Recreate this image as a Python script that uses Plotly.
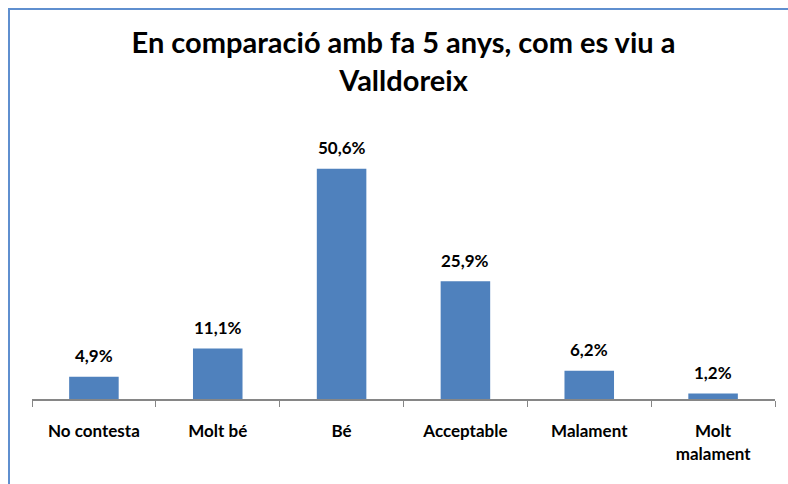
import plotly.graph_objects as go

categories = ["No contesta", "Molt bé", "Bé", "Acceptable", "Malament", "Molt<br>malament"]
values = [4.9, 11.1, 50.6, 25.9, 6.2, 1.2]
value_labels = ["4,9%", "11,1%", "50,6%", "25,9%", "6,2%", "1,2%"]
title_text = "En comparació amb fa 5 anys, com es viu a<br>Valldoreix"

FONT = "Lato"

fig = go.Figure(
    go.Bar(
        x=categories,
        y=values,
        marker=dict(color="#4F81BD", line=dict(width=0)),
        hoverinfo="skip",
    )
)

annotations = [
    dict(
        x=c,
        y=v,
        xref="x",
        yref="y",
        text=t,
        showarrow=False,
        yanchor="middle",
        yshift=21,
        font=dict(family=FONT, size=17, color="#000000", weight="bold"),
    )
    for c, v, t in zip(categories, values, value_labels)
]

fig.update_layout(
    width=788,
    height=484,
    margin=dict(l=32, r=13, t=126, b=85, autoexpand=False),
    paper_bgcolor="#FFFFFF",
    plot_bgcolor="#FFFFFF",
    bargap=0.6,
    showlegend=False,
    title=dict(
        text=title_text,
        x=0.5,
        xref="paper",
        xanchor="center",
        y=1 - 53 / 484,
        yanchor="top",
        font=dict(family=FONT, size=29, color="#000000", weight="bold"),
    ),
    xaxis=dict(
        type="category",
        showline=True,
        linecolor="#868686",
        linewidth=2,
        ticks="outside",
        tickson="boundaries",
        ticklen=6,
        tickcolor="#868686",
        tickwidth=1,
        showgrid=False,
        automargin=False,
        tickfont=dict(family=FONT, size=17, color="#000000", weight="bold"),
        ticklabelstandoff=16,
    ),
    yaxis=dict(range=[0, 60], visible=False, showgrid=False, zeroline=False),
    annotations=annotations,
    shapes=[
        dict(
            type="rect",
            xref="paper",
            yref="paper",
            x0=(9 - 32) / 743,
            x1=1.2,
            y0=-0.6,
            y1=(399 - 9) / 273,
            line=dict(color="#5F8FCF", width=2),
            fillcolor="rgba(0,0,0,0)",
            layer="above",
        )
    ],
)

fig.write_html(
    "out.html",
    config={"displayModeBar": False},
    post_script="document.body.style.margin='0';document.body.style.padding='0';",
)
